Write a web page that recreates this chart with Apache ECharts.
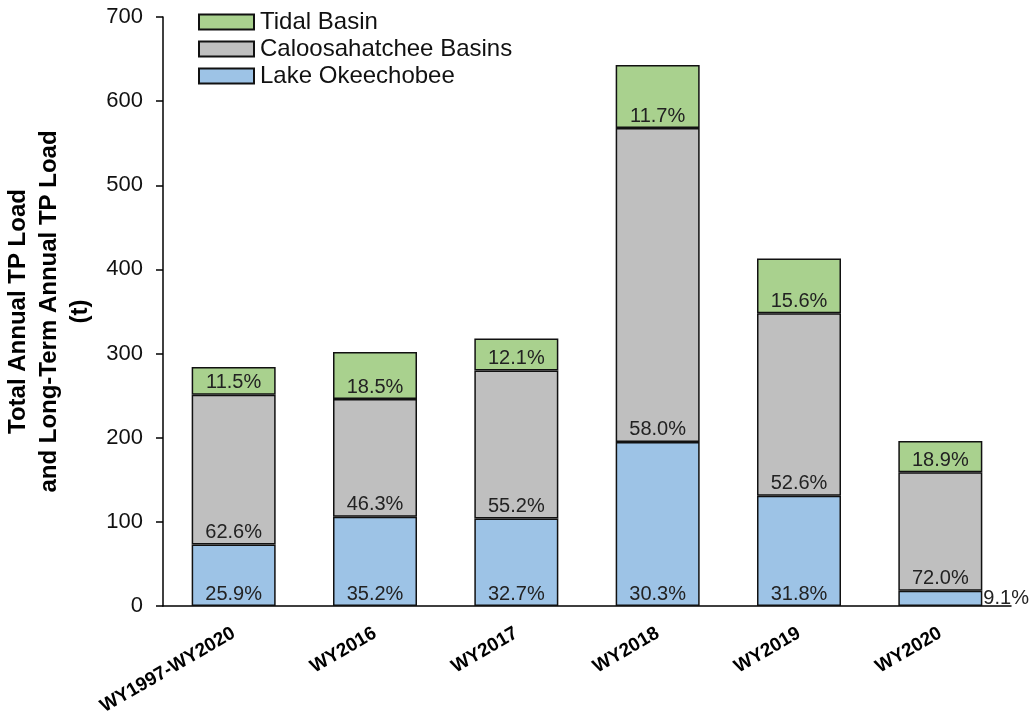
<!DOCTYPE html>
<html>
<head>
<meta charset="utf-8">
<script src="https://cdn.jsdelivr.net/npm/echarts@6/dist/echarts.min.js"></script>
<style>
  html, body { margin: 0; padding: 0; background: #fff; }
  #main { width: 1031px; height: 719px; }
</style>
</head>
<body>
<div id="main"></div>
<script>
var categorie = ['WY1997-WY2020', 'WY2016', 'WY2017', 'WY2018', 'WY2019', 'WY2020'];
var lakeOkee = [73, 106, 104, 195, 131, 18];
var caloosa = [178, 140, 176, 373, 217, 141];
var tidal = [33, 56, 38, 75, 65, 37];
var lakePct = ['25.9%', '35.2%', '32.7%', '30.3%', '31.8%', '9.1%'];
var caloosaPct = ['62.6%', '46.3%', '55.2%', '58.0%', '52.6%', '72.0%'];
var tidalPct = ['11.5%', '18.5%', '12.1%', '11.7%', '15.6%', '18.9%'];
var yTicks = [0, 100, 200, 300, 400, 500, 600, 700];

var dom = document.getElementById('main');
var myChart = echarts.init(dom, null, { renderer: 'canvas' });

var labelBase = {
    show: true,
    position: 'insideBottom',
    distance: 2,
    fontFamily: 'Liberation Sans',
    fontSize: 20,
    color: '#222'
};

function makeLabel(pcts) {
    return Object.assign({}, labelBase, {
        formatter: function (p) { return pcts[p.dataIndex]; }
    });
}

// la barra WY2020 e' troppo bassa: etichetta a destra
var lakeData = lakeOkee.map(function (v, i) {
    if (i === 5) {
        return { value: v, label: { position: 'right', distance: 1 } };
    }
    return v;
});

var option = {
    animation: false,
    textStyle: { fontFamily: 'Liberation Sans' },
    legend: {
        orient: 'vertical',
        left: 193,
        top: 5,
        icon: 'rect',
        itemWidth: 55,
        itemHeight: 15,
        itemGap: 3,
        data: ['Tidal Basin', 'Caloosahatchee Basins', 'Lake Okeechobee'],
        textStyle: { fontSize: 24, color: '#111', fontFamily: 'Liberation Sans', padding: [0, 0, 0, 1] }
    },
    grid: {
        left: 163,
        right: 20,
        top: 17,
        bottom: 113,
        outerBoundsMode: 'none'
    },
    xAxis: {
        type: 'category',
        data: categorie,
        axisLine: { lineStyle: { color: '#000', width: 1.5 } },
        axisTick: { alignWithLabel: true, length: 12, lineStyle: { color: '#000', width: 1.5 } },
        axisLabel: {
            rotate: 30,
            margin: 26,
            interval: 0,
            fontSize: 19,
            fontWeight: 'bold',
            color: '#000',
            fontFamily: 'Liberation Sans'
        }
    },
    yAxis: {
        type: 'value',
        min: yTicks[0],
        max: yTicks[yTicks.length - 1],
        interval: 100,
        name: 'Total Annual TP Load\nand Long-Term Annual TP Load\n(t)',
        nameLocation: 'middle',
        nameGap: 64,
        nameTextStyle: {
            fontSize: 24,
            fontWeight: 'bold',
            color: '#000',
            lineHeight: 31,
            fontFamily: 'Liberation Sans'
        },
        splitLine: { show: false },
        axisLine: { show: true, lineStyle: { color: '#000', width: 1.5 } },
        axisTick: { show: true, length: 7, lineStyle: { color: '#000', width: 1.5 } },
        axisLabel: { margin: 20, fontSize: 22, color: '#111', fontFamily: 'Liberation Sans' }
    },
    series: [{
        name: 'Lake Okeechobee',
        type: 'bar',
        stack: 'tp',
        barWidth: 84,
        data: lakeData,
        itemStyle: { color: '#9DC3E6', borderColor: '#111', borderWidth: 1.5 },
        label: makeLabel(lakePct)
    }, {
        name: 'Caloosahatchee Basins',
        type: 'bar',
        stack: 'tp',
        barWidth: 84,
        data: caloosa,
        itemStyle: { color: '#BFBFBF', borderColor: '#111', borderWidth: 1.5 },
        label: makeLabel(caloosaPct)
    }, {
        name: 'Tidal Basin',
        type: 'bar',
        stack: 'tp',
        barWidth: 84,
        data: tidal,
        itemStyle: { color: '#A9D18E', borderColor: '#111', borderWidth: 1.5 },
        label: makeLabel(tidalPct)
    }]
};

myChart.setOption(option);
window.addEventListener('resize', myChart.resize);
</script>
</body>
</html>
